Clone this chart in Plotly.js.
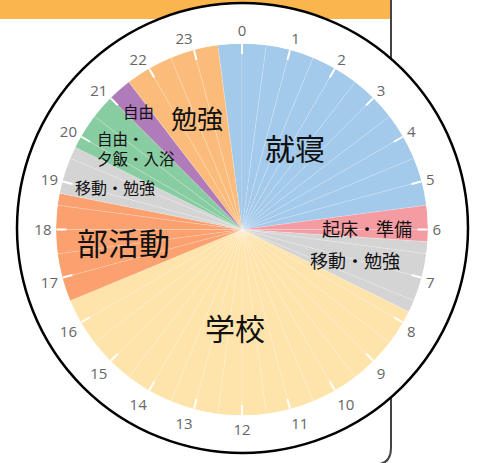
<!DOCTYPE html>
<html>
<head>
<meta charset="utf-8">
<script src="https://cdn.plot.ly/plotly-3.0.1.min.js"></script>
<style>html,body{margin:0;padding:0;background:#fff;}#chart{width:479px;height:463px;}</style>
</head>
<body>
<div id="chart"></div>
<script>
// ---- data ----
const hourLabels = ['0','1','2','3','4','5','6','7','8','9','10','11','12','13','14','15','16','17','18','19','20','21','22','23'];
const activities = ['就寝','起床・準備','移動・勉強','学校','部活動','移動・勉強','自由・<br>夕飯・入浴','自由','勉強'];
const startHours = [23.5, 5.5, 6.25, 7.75, 16.5, 18.75, 19.75, 21, 21.5];
const durations  = [6, 0.75, 1.5, 8.75, 2.25, 1, 1.25, 0.5, 2];
const colors = ['#a3c9eb','#f59ba2','#d4d4d4','#fee3aa','#fba06f','#d4d4d4','#88cca1','#b07bb9','#fbbc7b'];

// ---- build slots (split at half-hour boundaries) ----
const thetas = [], widths = [], rs = [], cols = [];
for (let i = 0; i < activities.length; i++) {
  let t = startHours[i];
  const end = startHours[i] + durations[i];
  while (t < end - 1e-9) {
    let next = Math.floor(t * 2 + 1e-9) / 2 + 0.5;
    if (next > end) next = end;
    thetas.push((((t + next) / 2) % 24) * 15);
    widths.push((next - t) * 15);
    rs.push(1);
    cols.push(colors[i]);
    t = next;
  }
}

const W = 479, H = 463;
const px = x => x / W;
const py = y => 1 - y / H;

const cx = 242, cy = 229.5, R = 186;
const dom = {x: [px(cx - R), px(cx + R)], y: [py(cy + R), py(cy - R)]};

const trace = {
  type: 'barpolar', subplot: 'polar',
  r: rs, theta: thetas, width: widths,
  marker: {color: cols, line: {color: 'rgba(255,255,255,0.6)', width: 0.3}},
  hoverinfo: 'skip', showlegend: false
};
const labelTrace = {
  type: 'barpolar', subplot: 'polar2',
  r: [0], theta: [0], width: [1],
  marker: {color: 'rgba(0,0,0,0)'},
  hoverinfo: 'skip', showlegend: false
};

function ann(text, x, y, size, extra) {
  return Object.assign({
    text: text, xref: 'paper', yref: 'paper', x: px(x), y: py(y),
    xanchor: 'center', yanchor: 'middle', showarrow: false,
    font: {family: 'Noto Sans CJK JP', size: size, color: '#111'}
  }, extra || {});
}

const cardPath = 'M ' + px(391) + ',' + py(-5) + ' L ' + px(391) + ',' + py(448) +
  ' Q ' + px(391) + ',' + py(464.5) + ' ' + px(375) + ',' + py(464.5) +
  ' L ' + px(200) + ',' + py(464.5);

const tickvals = hourLabels.map((h, i) => i * 15);
const twoLines = activities[6].split('<br>');

const layout = {
  width: W, height: H,
  margin: {l: 0, r: 0, t: 0, b: 0},
  paper_bgcolor: '#fff',
  showlegend: false,
  polar: {
    domain: dom,
    bgcolor: 'rgba(0,0,0,0)',
    radialaxis: {visible: false, range: [0, 1]},
    angularaxis: {
      rotation: 90, direction: 'clockwise',
      tickmode: 'array', tickvals: tickvals, ticktext: hourLabels,
      ticks: 'inside', ticklen: 10, tickwidth: 2, tickcolor: '#fff',
      showticklabels: false, showline: false, showgrid: false
    }
  },
  polar2: {
    domain: dom,
    bgcolor: 'rgba(0,0,0,0)',
    radialaxis: {visible: false, range: [0, 1]},
    angularaxis: {
      rotation: 90, direction: 'clockwise',
      tickmode: 'array', tickvals: tickvals, ticktext: hourLabels,
      ticks: 'outside', ticklen: 1, tickwidth: 1, tickcolor: 'rgba(0,0,0,0)',
      showline: false, showgrid: false,
      tickfont: {family: 'Open Sans', size: 15, color: '#666'}
    }
  },
  shapes: [
    {type: 'rect', xref: 'paper', yref: 'paper', x0: px(-2), x1: px(391), y0: py(19), y1: py(-2),
     fillcolor: '#fbb54f', line: {width: 0}, layer: 'below'},
    {type: 'path', xref: 'paper', yref: 'paper', path: cardPath,
     line: {color: '#444', width: 2}, layer: 'below'},
    {type: 'circle', xref: 'paper', yref: 'paper', x0: px(17), x1: px(468), y0: py(453), y1: py(3),
     fillcolor: '#fff', line: {color: '#000', width: 2.5}, layer: 'below'}
  ],
  annotations: [
    ann(activities[0], 295, 147, 30),
    ann(activities[1], 367, 228, 18),
    ann(activities[2], 355, 260, 18),
    ann(activities[3], 235, 327, 30),
    ann(activities[4], 124, 242, 31),
    ann(activities[5], 115, 187, 16),
    ann(twoLines[0], 96, 138, 15.5, {xanchor: 'left', borderpad: 0}),
    ann(twoLines[1], 96, 158, 15.5, {xanchor: 'left', borderpad: 0}),
    ann(activities[7], 138, 111, 15.5),
    ann(activities[8], 197, 117, 26)
  ]
};

Plotly.newPlot('chart', [trace, labelTrace], layout, {displayModeBar: false, staticPlot: true});
</script>
</body>
</html>
